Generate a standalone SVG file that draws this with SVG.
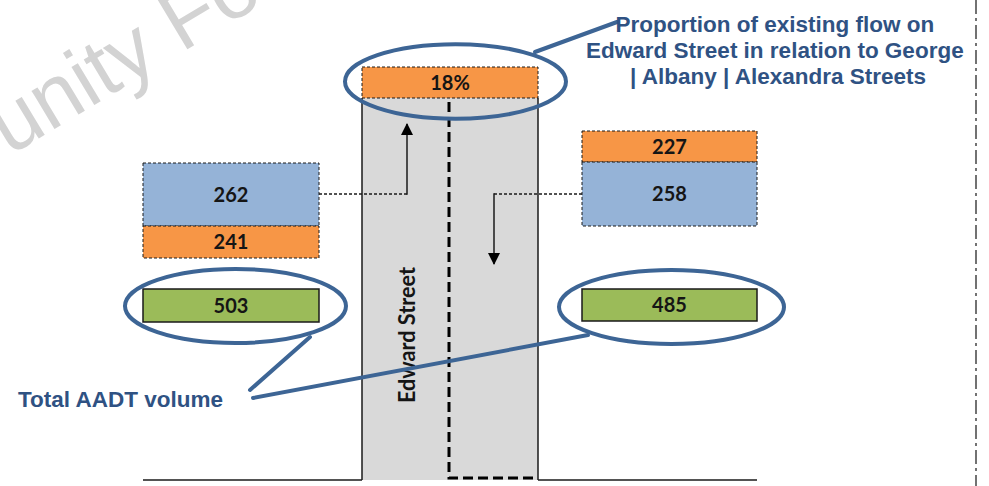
<svg xmlns="http://www.w3.org/2000/svg" width="989" height="486" viewBox="0 0 989 486">
  <defs>
    <style>
      .num { font-family: Lato, "Liberation Sans", sans-serif; font-weight: bold; font-size: 20px; fill: #151515; text-anchor: middle; }
      .note { font-family: "Liberation Sans", Arial, sans-serif; font-weight: bold; font-size: 22.5px; fill: #2f5283; }
      .orange { fill: #f79646; stroke: #1a1a1a; stroke-width: 1; stroke-dasharray: 3 2; }
      .blue { fill: #95b3d7; stroke: #1a1a1a; stroke-width: 1; stroke-dasharray: 3 2; }
      .green { fill: #9bbb59; stroke: #1a1a1a; stroke-width: 1.5; }
      .callout { fill: none; stroke: #3d6595; stroke-width: 4; }
      .leader { fill: none; stroke: #3d6595; stroke-width: 4; stroke-linecap: round; }
      .dotted { fill: none; stroke: #1a1a1a; stroke-width: 1.3; stroke-dasharray: 3 2; }
      .solid { fill: none; stroke: #1a1a1a; stroke-width: 1.5; }
    </style>
    <marker id="arrow" viewBox="0 0 12 12" refX="11" refY="6" markerWidth="12" markerHeight="12" markerUnits="userSpaceOnUse" orient="auto">
      <path d="M0,0 L12,6 L0,12 Z" fill="#000"/>
    </marker>
  </defs>

  <rect width="989" height="486" fill="#ffffff"/>

  <!-- watermark -->
  <text transform="translate(186,50) rotate(-31)" x="-206" y="0" font-family="'Liberation Sans', Arial, sans-serif" font-size="84" fill="#d3d3d3">unity Fo</text>

  <!-- page boundary -->
  <line x1="976" y1="0" x2="976" y2="486" stroke="#444" stroke-width="1.5" stroke-dasharray="14 4 3 4"/>

  <!-- road: Edward Street -->
  <g id="edward-street">
    <rect x="362" y="98" width="176" height="382" fill="#d9d9d9"/>
    <line class="solid" x1="362" y1="98" x2="362" y2="480"/>
    <line class="solid" x1="538" y1="98" x2="538" y2="480"/>
    <line class="solid" x1="143" y1="480" x2="362" y2="480"/>
    <line class="solid" x1="538" y1="480" x2="757" y2="480"/>
    <path d="M449,102 L449,478 L538,478" fill="none" stroke="#000" stroke-width="3" stroke-dasharray="10 5"/>
    <text transform="translate(415,335) rotate(-90)" font-family="Lato, 'Liberation Sans', sans-serif" font-weight="bold" font-size="22" fill="#151515" text-anchor="middle" textLength="136" lengthAdjust="spacingAndGlyphs">Edward Street</text>
  </g>

  <g id="proportion">
    <rect class="orange" x="362" y="67" width="176" height="31"/>
    <text class="num" x="450" y="90">18%</text>
  </g>

  <g id="left-flows">
    <rect class="blue" x="143" y="163" width="176" height="63"/>
    <rect class="orange" x="143" y="226" width="176" height="32"/>
    <text class="num" x="231" y="201.5">262</text>
    <text class="num" x="231" y="249">241</text>
  </g>

  <g id="left-total">
    <rect class="green" x="143" y="289" width="176" height="33"/>
    <text class="num" x="231" y="312.5">503</text>
  </g>

  <g id="right-flows">
    <rect class="orange" x="582" y="131" width="175" height="31"/>
    <rect class="blue" x="582" y="162" width="175" height="64"/>
    <text class="num" x="669.5" y="153.5">227</text>
    <text class="num" x="669.5" y="201">258</text>
  </g>

  <g id="right-total">
    <rect class="green" x="582" y="289" width="175" height="32"/>
    <text class="num" x="669.5" y="312">485</text>
  </g>

  <!-- flow arrows -->
  <g id="connectors">
    <line class="dotted" x1="319" y1="194" x2="407" y2="194"/>
    <line class="solid" x1="407" y1="194.7" x2="407" y2="124" marker-end="url(#arrow)"/>
    <line class="dotted" x1="582" y1="194" x2="494" y2="194"/>
    <line class="solid" x1="494" y1="193.3" x2="494" y2="264" marker-end="url(#arrow)"/>
  </g>

  <!-- callouts -->
  <g id="callout-proportion">
    <ellipse class="callout" cx="455.5" cy="81.5" rx="110.5" ry="37.2"/>
    <line class="leader" x1="535" y1="52" x2="617" y2="22"/>
    <text class="note" text-anchor="middle">
      <tspan x="778" y="31.5">Proportion of existing flow on</tspan>
      <tspan x="778" y="58">Edward Street in relation to George</tspan>
      <tspan x="778" y="84">| Albany | Alexandra Streets</tspan>
    </text>
  </g>

  <g id="callout-total">
    <ellipse class="callout" cx="235.5" cy="306" rx="110.5" ry="37"/>
    <ellipse class="callout" cx="671.5" cy="307" rx="112.5" ry="37"/>
    <line class="leader" x1="310" y1="337" x2="250" y2="390"/>
    <line class="leader" x1="253" y1="398" x2="588" y2="335"/>
    <text class="note" x="18" y="407" font-size="22">Total AADT volume</text>
  </g>
</svg>
